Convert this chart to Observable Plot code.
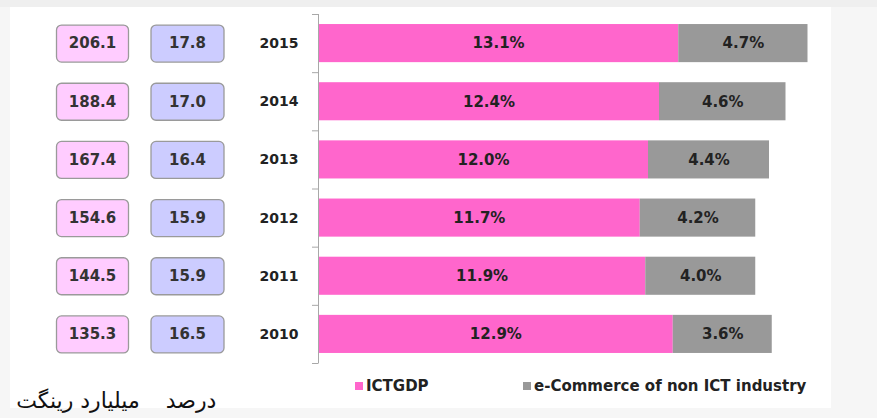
<!DOCTYPE html>
<html>
<head>
<meta charset="utf-8">
<script src="https://cdn.jsdelivr.net/npm/d3@7"></script>
<script src="https://cdn.jsdelivr.net/npm/@observablehq/plot@0.6"></script>
<style>
  html, body { margin: 0; padding: 0; background: #f6f6f6; }
  #wrap { position: relative; width: 877px; height: 418px; overflow: hidden; }
  #topstrip { position: absolute; left: 0; top: 0; width: 877px; height: 7px; background: #efefef; }
  #panel { position: absolute; left: 10px; top: 7px; width: 821px; height: 401px; background: #ffffff; }
  #chart { position: absolute; left: 0; top: 0; }
  .legend { position: absolute; top: 377px; font: bold 15px "DejaVu Sans", sans-serif; color: #222; white-space: nowrap; line-height: 19px; }
  .legend .sw { display: inline-block; width: 8px; height: 8px; margin-right: 3px; vertical-align: 1px; }
  .fa { position: absolute; top: 388px; font: 22px "DejaVu Sans", sans-serif; color: #111; direction: rtl; white-space: nowrap; transform: translateX(-50%); line-height: 26px; }
</style>
</head>
<body>
<div id="wrap">
  <div id="topstrip"></div>
  <div id="panel"></div>
  <div id="chart"></div>
  <div id="legend"></div>
  <div id="falabels"></div>
</div>
<script>
// ---- data ----
const years = ["2015", "2014", "2013", "2012", "2011", "2010"];
const ictGdp = [13.1, 12.4, 12.0, 11.7, 11.9, 12.9];
const eCommerce = [4.7, 4.6, 4.4, 4.2, 4.0, 3.6];
const billionRinggit = [206.1, 188.4, 167.4, 154.6, 144.5, 135.3];
const percentTotal = [17.8, 17.0, 16.4, 15.9, 15.9, 16.5];
const seriesNames = ["ICTGDP", "e-Commerce of non ICT industry"];
const seriesColors = ["#ff66cc", "#999999"];
const columnHeaders = ["میلیارد رینگت", "درصد"];

// ---- derived tables ----
const long = years.flatMap((y, i) => [
  {year: y, series: seriesNames[0], value: ictGdp[i]},
  {year: y, series: seriesNames[1], value: eCommerce[i]}
]);
const rows = years.map((y, i) => ({year: y, amount: billionRinggit[i], pct: percentTotal[i]}));

// ---- layout ----
const W = 877, H = 372, mTop = 14, mBottom = 9, mLeft = 318, mRight = 9;
const step = (H - mTop - mBottom) / years.length;

function roundRect(w, h, r) {
  return {
    draw(ctx) {
      const x0 = -w / 2, y0 = -h / 2, x1 = w / 2, y1 = h / 2;
      ctx.moveTo(x0 + r, y0);
      ctx.lineTo(x1 - r, y0);
      ctx.arcTo(x1, y0, x1, y0 + r, r);
      ctx.lineTo(x1, y1 - r);
      ctx.arcTo(x1, y1, x1 - r, y1, r);
      ctx.lineTo(x0 + r, y1);
      ctx.arcTo(x0, y1, x0, y1 - r, r);
      ctx.lineTo(x0, y0 + r);
      ctx.arcTo(x0, y0, x0 + r, y0, r);
      ctx.closePath();
    }
  };
}
const tickLeft = { draw(ctx) { ctx.moveTo(-6.5, 0); ctx.lineTo(0, 0); } };

const box1dx = -226, box2dx = -131;

const chart = Plot.plot({
  width: W, height: H,
  marginTop: mTop, marginBottom: mBottom, marginLeft: mLeft, marginRight: mRight,
  style: {background: "transparent", fontFamily: "'DejaVu Sans', sans-serif", fontWeight: "bold", fontSize: "14px", color: "#222"},
  x: {domain: [0, 20], axis: null},
  y: {domain: years, paddingInner: 0.345, paddingOuter: 0.1725, round: false, tickSize: 0, tickPadding: 20, label: null},
  color: {domain: seriesNames, range: seriesColors},
  marks: [
    Plot.barX(long, {y: "year", x: "value", fill: "series"}),
    Plot.text(long, Plot.stackX({y: "year", x: "value", z: "series", text: d => d.value.toFixed(1) + "%", fontSize: 15, fill: "#222"})),
    Plot.ruleX([0], {stroke: "#a8a8a8", strokeWidth: 1}),
    Plot.dot(rows, {y: "year", frameAnchor: "left", dy: -step / 2, symbol: tickLeft, fill: "none", stroke: "#a8a8a8", strokeWidth: 1}),
    Plot.dot(rows.slice(-1), {y: "year", frameAnchor: "left", dy: step / 2, symbol: tickLeft, fill: "none", stroke: "#a8a8a8", strokeWidth: 1}),
    Plot.dot(rows, {y: "year", frameAnchor: "left", dx: box1dx, symbol: roundRect(72, 37, 5), fill: "#ffccff", stroke: "#9a9a9a", strokeWidth: 1.3}),
    Plot.dot(rows, {y: "year", frameAnchor: "left", dx: box2dx, symbol: roundRect(73, 37, 5), fill: "#ccccff", stroke: "#9a9a9a", strokeWidth: 1.3}),
    Plot.text(rows, {y: "year", frameAnchor: "left", dx: box1dx, textAnchor: "middle", text: d => d.amount.toFixed(1), fontSize: 15, fill: "#333"}),
    Plot.text(rows, {y: "year", frameAnchor: "left", dx: box2dx, textAnchor: "middle", text: d => d.pct.toFixed(1), fontSize: 15, fill: "#333"})
  ]
});
document.getElementById("chart").appendChild(chart);

// legend
const legendLefts = [355, 523];
const legend = document.getElementById("legend");
seriesNames.forEach((name, i) => {
  const item = document.createElement("div");
  item.className = "legend";
  item.style.left = legendLefts[i] + "px";
  const sw = document.createElement("span");
  sw.className = "sw";
  sw.style.background = seriesColors[i];
  item.appendChild(sw);
  item.appendChild(document.createTextNode(name));
  legend.appendChild(item);
});

// column headers (below the boxes)
const fa = document.getElementById("falabels");
const headerCenters = [78, 191];
columnHeaders.forEach((t, i) => {
  const d = document.createElement("div");
  d.className = "fa";
  d.style.left = headerCenters[i] + "px";
  d.textContent = t;
  fa.appendChild(d);
});
</script>
</body>
</html>
